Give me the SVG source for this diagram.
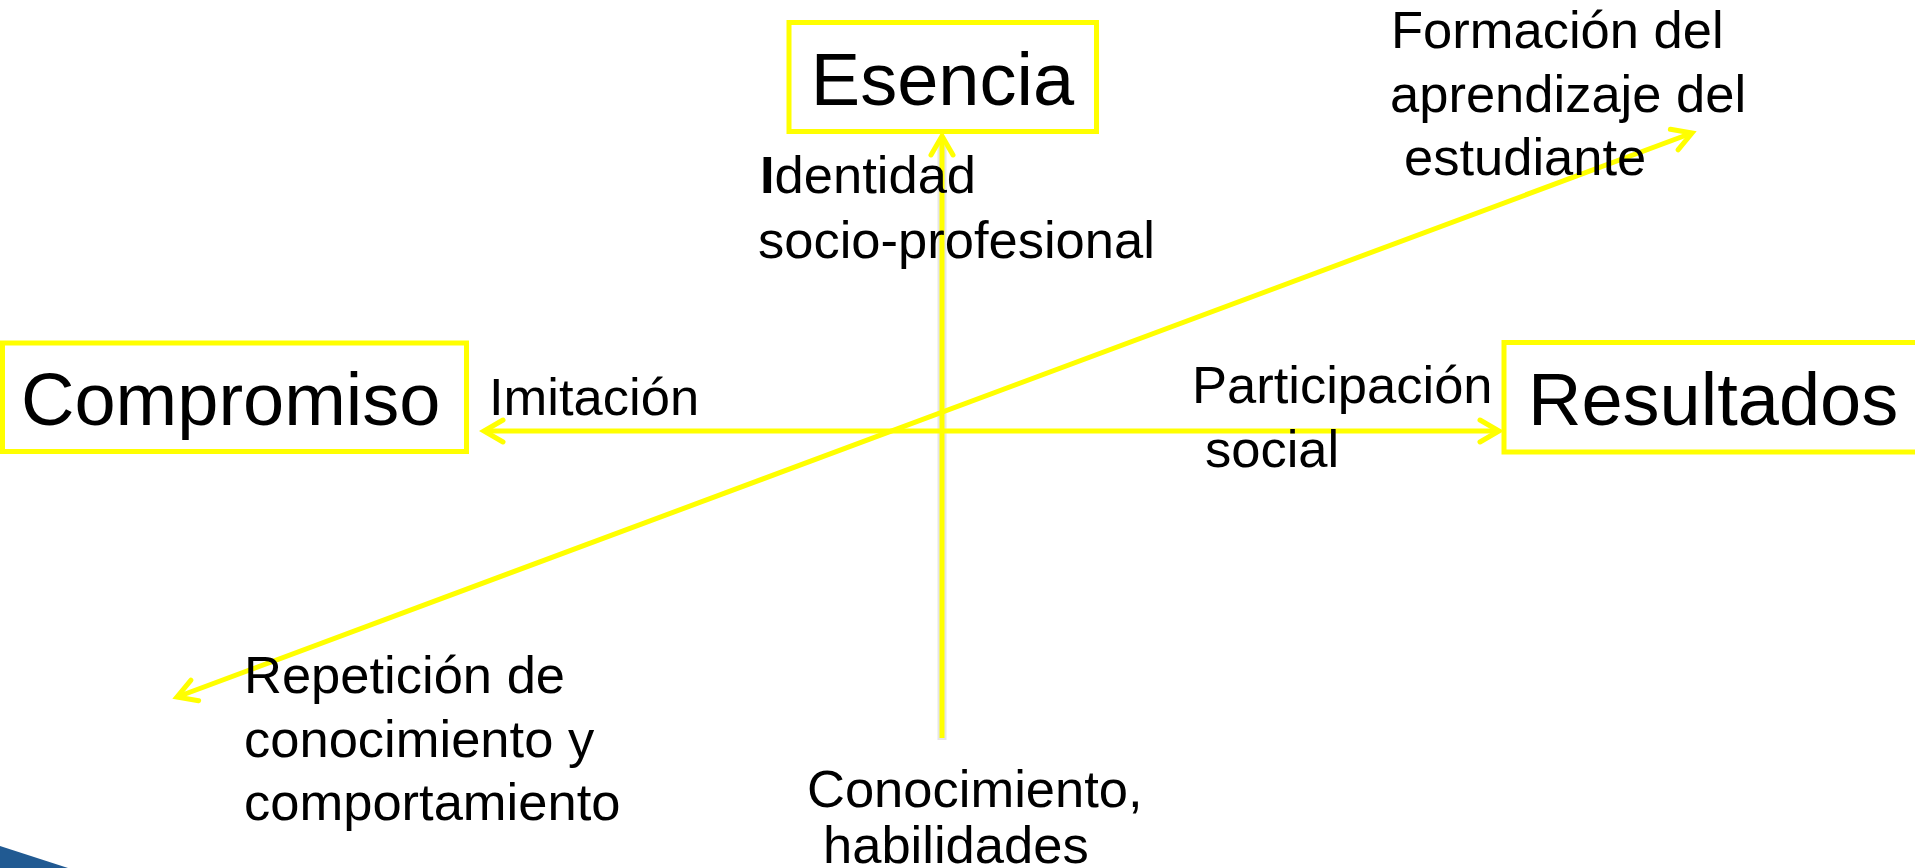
<svg xmlns="http://www.w3.org/2000/svg" width="1915" height="868" viewBox="0 0 1915 868">
  <style>
    .box { fill: #ffffff; stroke: #ffff00; stroke-width: 5; }
    .title { font-family: "Liberation Sans", Arial, sans-serif; fill: #000000; }
    .big { font-size: 74px; }
    .lbl { font-family: "Liberation Sans", Arial, sans-serif; font-size: 52.5px; fill: #000000; }
    .conn { stroke: #ffff00; stroke-width: 5; fill: none; }
    .shadow { stroke: #9a9a9a; stroke-width: 9; opacity: 0.25; fill: none; }
  </style>
  <defs>
    <marker id="arrow" markerUnits="userSpaceOnUse" markerWidth="40" markerHeight="40" viewBox="-30 -20 40 40" refX="0" refY="0" orient="auto-start-reverse" overflow="visible">
      <path d="M-19,-11 L0,0 L-19,11" fill="none" stroke="#ffff00" stroke-width="5" stroke-linecap="round" stroke-linejoin="miter"/>
    </marker>
  </defs>
  <rect x="0" y="0" width="1915" height="868" fill="#ffffff"/>

  <g id="connectors">
    <line class="shadow" x1="942" y1="740" x2="942" y2="140"/>
    <line class="conn" x1="942" y1="738" x2="942" y2="136" marker-end="url(#arrow)"/>
    <line class="conn" x1="484" y1="431" x2="1499" y2="431" marker-start="url(#arrow)" marker-end="url(#arrow)"/>
    <line class="conn" x1="177" y1="697" x2="1692" y2="133" marker-start="url(#arrow)" marker-end="url(#arrow)"/>
  </g>

  <g id="node-esencia">
    <rect class="box" x="789" y="22.5" width="307.5" height="109"/>
    <text class="title big" x="942.5" y="105" text-anchor="middle" font-size="75">Esencia</text>
  </g>
  <g id="node-compromiso">
    <rect class="box" x="2.5" y="343" width="464" height="108.5"/>
    <text class="title big" x="21" y="425">Compromiso</text>
  </g>
  <g id="node-resultados">
    <rect class="box" x="1504" y="342.5" width="420" height="109.5"/>
    <text class="title big" x="1528" y="425" font-size="73">Resultados</text>
  </g>

  <g id="labels">
    <text class="lbl" x="760" y="193"><tspan font-weight="bold">I</tspan>dentidad</text>
    <text class="lbl" x="758" y="258">socio-profesional</text>
    <text class="lbl" x="489" y="415">Imitación</text>
    <text class="lbl" x="1192" y="403">Participación</text>
    <text class="lbl" x="1205" y="467">social</text>
    <text class="lbl" x="1391" y="48">Formación del</text>
    <text class="lbl" x="1390" y="112">aprendizaje del</text>
    <text class="lbl" x="1404" y="175">estudiante</text>
    <text class="lbl" x="244" y="693">Repetición de</text>
    <text class="lbl" x="244" y="757">conocimiento y</text>
    <text class="lbl" x="244" y="820">comportamiento</text>
    <text class="lbl" x="807" y="807">Conocimiento,</text>
    <text class="lbl" x="823" y="863">habilidades</text>
  </g>

  <polygon points="0,846 68,868 0,868" fill="#215a92"/>
</svg>
